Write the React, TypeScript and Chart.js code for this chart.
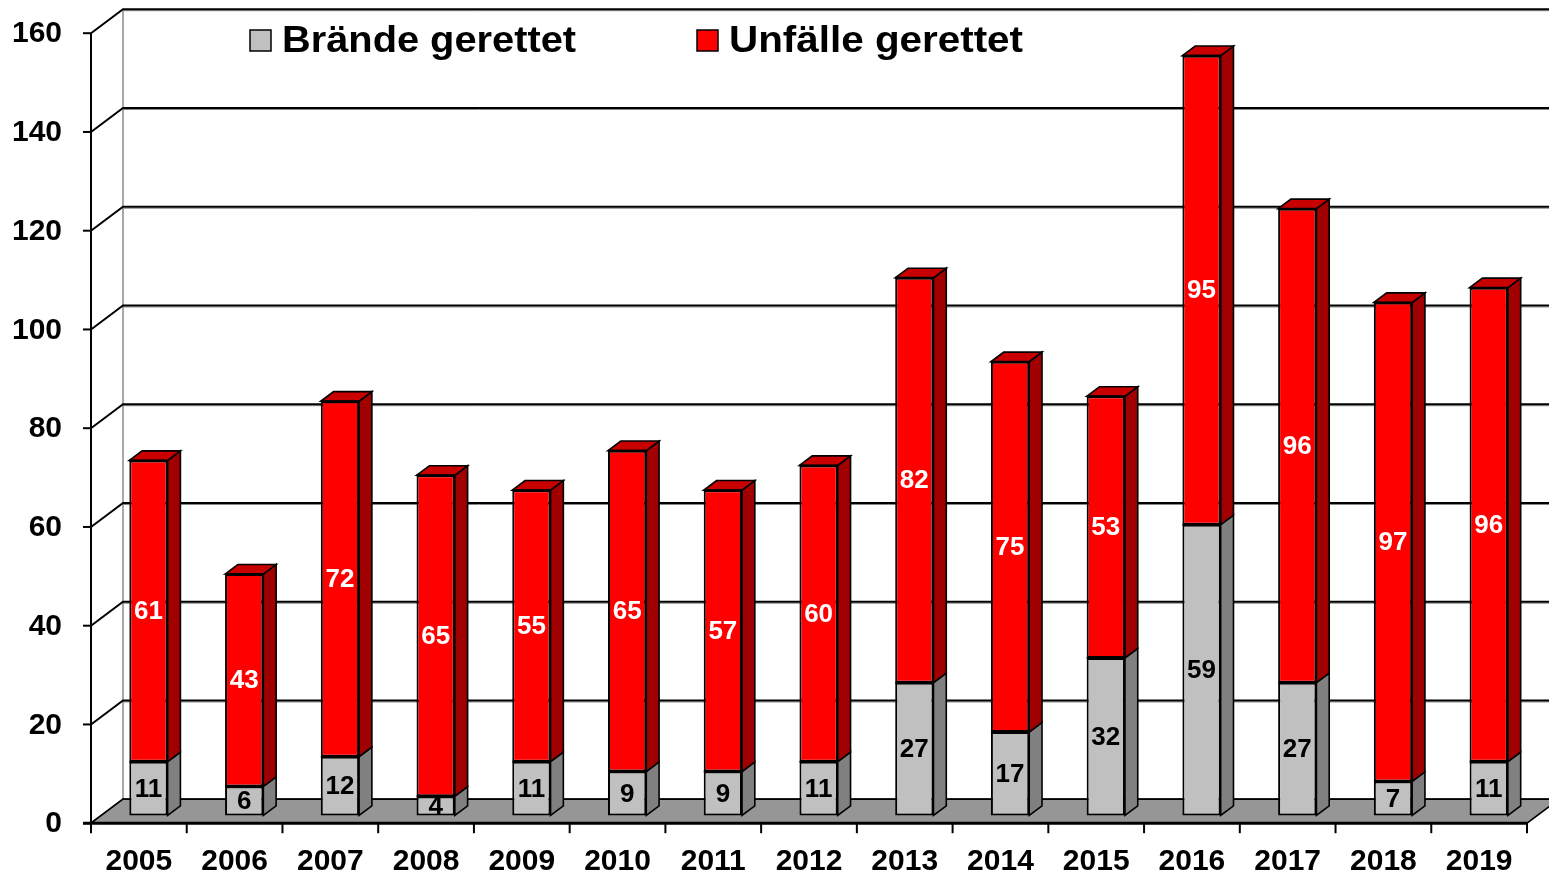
import { useEffect, useRef } from "react";
import { Chart, registerables } from "chart.js";

Chart.register(...registerables);

const years = ["2005", "2006", "2007", "2008", "2009", "2010", "2011", "2012", "2013", "2014", "2015", "2016", "2017", "2018", "2019"];
const braende = [11, 6, 12, 4, 11, 9, 9, 11, 27, 17, 32, 59, 27, 7, 11];
const unfaelle = [61, 43, 72, 65, 55, 65, 57, 60, 82, 75, 53, 95, 96, 97, 96];
const seriesLabels = ["Brände gerettet", "Unfälle gerettet"];
const yMin = 0;
const yMax = 160;
const yStep = 20;

const FONT = '"Liberation Sans", Arial, Helvetica, sans-serif';
// depth vector from front plane to back wall (pixels)
const DX = 32;
const DY = -24;
const F0 = 0.3; // bar front face, fraction of depth
const F1 = 0.7; // bar back face, fraction of depth

const C = {
  grayFront: "#C0C0C0",
  graySide: "#808080",
  grayTop: "#A0A0A0",
  redFront: "#FF0000",
  redSide: "#A00000",
  redTop: "#C80000",
  floor: "#969696",
  wall: "#A8A8A8",
};

const sideColors = [C.graySide, C.redSide];
const topColors = [C.grayTop, C.redTop];
const labelColors = ["#000000", "#FFFFFF"];

function seg(ctx: CanvasRenderingContext2D, x1: number, y1: number, x2: number, y2: number) {
  ctx.beginPath();
  ctx.moveTo(x1, y1);
  ctx.lineTo(x2, y2);
  ctx.stroke();
}

const pseudo3d = {
  id: "pseudo3d",
  beforeDraw(chart: any) {
    const { ctx, chartArea, scales } = chart;
    const y = scales.y;
    const fx = -F0 * DX, fy = -F0 * DY;
    const bx = (1 - F0) * DX, by = (1 - F0) * DY;
    const left = chartArea.left, right = chartArea.right;
    const frontLeft = left + fx;
    const backLeft = left + bx;
    const W = chart.width;
    const y0 = y.getPixelForValue(yMin);
    const yTop = y.getPixelForValue(yMax);
    ctx.save();
    ctx.lineCap = "butt";

    // back wall vertical edge
    ctx.strokeStyle = C.wall;
    ctx.lineWidth = 2;
    seg(ctx, backLeft, yTop + by, backLeft, y0 + by);

    // gridlines on side wall and back wall
    for (let v = yMin; v <= yMax; v += yStep) {
      const yy = y.getPixelForValue(v);
      ctx.strokeStyle = "#808080";
      ctx.lineWidth = 1;
      seg(ctx, backLeft, yy + by + 1.5, W, yy + by + 1.5);
      ctx.strokeStyle = "#000";
      ctx.lineWidth = 2;
      ctx.beginPath();
      ctx.moveTo(frontLeft, yy + fy);
      ctx.lineTo(backLeft, yy + by);
      ctx.lineTo(W, yy + by);
      ctx.stroke();
    }

    // floor
    ctx.beginPath();
    ctx.moveTo(frontLeft, y0 + fy);
    ctx.lineTo(backLeft, y0 + by);
    ctx.lineTo(right + bx, y0 + by);
    ctx.lineTo(right + fx, y0 + fy);
    ctx.closePath();
    ctx.fillStyle = C.floor;
    ctx.fill();
    ctx.strokeStyle = "#000";
    ctx.lineWidth = 1.5;
    ctx.stroke();

    // front edge of the floor
    ctx.lineWidth = 3;
    seg(ctx, frontLeft - 8, y0 + fy, right + fx, y0 + fy);

    // front value axis
    ctx.lineWidth = 2;
    seg(ctx, frontLeft, yTop + fy, frontLeft, y0 + fy);
    for (let v = yMin; v <= yMax; v += yStep) {
      const yy = y.getPixelForValue(v) + fy;
      seg(ctx, frontLeft - 8, yy, frontLeft, yy);
    }

    // category tick marks on the front edge
    const n = years.length;
    for (let i = 0; i <= n; i++) {
      const xx = left + (i * (right - left)) / n + fx;
      seg(ctx, xx, y0 + fy, xx, y0 + fy + 10);
    }
    ctx.restore();
  },
  afterDatasetsDraw(chart: any) {
    const { ctx } = chart;
    const dx = (F1 - F0) * DX, dy = (F1 - F0) * DY;
    const nds = chart.data.datasets.length;
    ctx.save();
    ctx.lineJoin = "miter";
    for (let i = 0; i < nds; i++) {
      const meta = chart.getDatasetMeta(i);
      meta.data.forEach((el: any) => {
        const p = el.getProps(["x", "y", "base", "width"], true);
        const xl = p.x - p.width / 2;
        const xr = p.x + p.width / 2;
        const top = Math.min(p.y, p.base);
        const base = Math.max(p.y, p.base);
        ctx.strokeStyle = "#000";
        ctx.lineWidth = 1.6;
        // side face
        ctx.beginPath();
        ctx.moveTo(xr, base);
        ctx.lineTo(xr, top);
        ctx.lineTo(xr + dx, top + dy);
        ctx.lineTo(xr + dx, base + dy);
        ctx.closePath();
        ctx.fillStyle = sideColors[i];
        ctx.fill();
        ctx.stroke();
        if (i === nds - 1) {
          ctx.beginPath();
          ctx.moveTo(xl, top);
          ctx.lineTo(xl + dx, top + dy);
          ctx.lineTo(xr + dx, top + dy);
          ctx.lineTo(xr, top);
          ctx.closePath();
          ctx.fillStyle = topColors[i];
          ctx.fill();
          ctx.stroke();
        }
        // separating edge between stacked segments
        ctx.lineWidth = 2;
        seg(ctx, xl, top, xr, top);
      });
    }
    // value labels
    ctx.font = `bold 26px ${FONT}`;
    ctx.textAlign = "center";
    ctx.textBaseline = "middle";
    for (let i = 0; i < nds; i++) {
      const meta = chart.getDatasetMeta(i);
      const data = chart.data.datasets[i].data;
      meta.data.forEach((el: any, j: number) => {
        const p = el.getProps(["x", "y", "base"], true);
        ctx.fillStyle = labelColors[i];
        ctx.fillText(String(data[j]), p.x, (p.y + p.base) / 2 + 1);
      });
    }
    ctx.restore();
  },
  afterDraw(chart: any) {
    const { ctx } = chart;
    const boxX = [250, 697];
    const fills = [C.grayFront, C.redFront];
    const textWidth = 294;
    ctx.save();
    ctx.font = `bold 36px ${FONT}`;
    ctx.textAlign = "left";
    ctx.textBaseline = "alphabetic";
    chart.data.datasets.forEach((ds: any, i: number) => {
      const x = boxX[i];
      ctx.fillStyle = fills[i];
      ctx.fillRect(x, 30, 21, 21);
      ctx.strokeStyle = "#000";
      ctx.lineWidth = 1.5;
      ctx.strokeRect(x, 30, 21, 21);
      const w = ctx.measureText(ds.label).width;
      const sx = textWidth / w;
      ctx.save();
      ctx.translate(x + 32, 52);
      ctx.scale(sx, 1);
      ctx.fillStyle = "#000";
      ctx.fillText(ds.label, 0, 0);
      ctx.restore();
    });
    ctx.restore();
  },
};

export default function App() {
  const ref = useRef<HTMLCanvasElement | null>(null);
  useEffect(() => {
    if (!ref.current) return;
    const chart = new Chart(ref.current, {
      type: "bar",
      data: {
        labels: years,
        datasets: [
          {
            label: seriesLabels[0],
            data: braende,
            backgroundColor: C.grayFront,
            borderColor: "#000",
            borderWidth: 2,
            borderSkipped: false,
            barPercentage: 0.4,
            categoryPercentage: 1,
          },
          {
            label: seriesLabels[1],
            data: unfaelle,
            backgroundColor: C.redFront,
            borderColor: "#000",
            borderWidth: 2,
            borderSkipped: false,
            barPercentage: 0.4,
            categoryPercentage: 1,
          },
        ],
      },
      options: {
        animation: false,
        responsive: false,
        layout: { padding: { top: 26, right: 12.4, left: 0, bottom: 0 } },
        plugins: { legend: { display: false }, tooltip: { enabled: false } },
        scales: {
          x: {
            stacked: true,
            grid: { display: true, color: "transparent", drawOnChartArea: false, drawTicks: true, tickLength: 28 },
            border: { display: false },
            ticks: {
              color: "#000",
              font: { family: FONT, size: 30, weight: "bold" },
              padding: 0,
              labelOffset: -F0 * DX,
              maxRotation: 0,
              autoSkip: false,
            },
            afterFit: (s: any) => {
              s.height = 60;
            },
          },
          y: {
            stacked: true,
            min: yMin,
            max: yMax,
            grid: { display: true, color: "transparent", drawOnChartArea: false, drawTicks: true, tickLength: 38.6 },
            border: { display: false },
            ticks: {
              stepSize: yStep,
              color: "#000",
              font: { family: FONT, size: 30, weight: "bold" },
              padding: 0,
              labelOffset: -F0 * DY + 1,
            },
            afterFit: (s: any) => {
              s.width = 100.6;
            },
          },
        },
      },
      plugins: [pseudo3d],
    } as any);
    return () => chart.destroy();
  }, []);
  return (
    <div style={{ position: "fixed", left: 0, top: 0, width: 1549, height: 876, background: "#fff" }}>
      <canvas ref={ref} width={1549} height={876} style={{ display: "block" }} />
    </div>
  );
}
